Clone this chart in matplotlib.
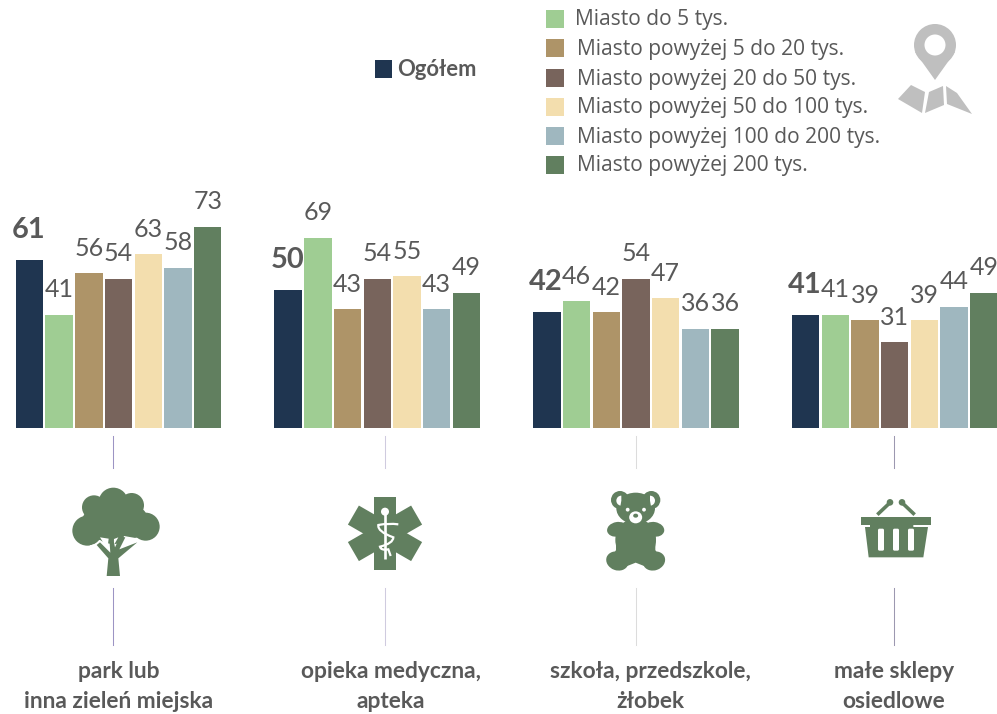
import numpy as np
import matplotlib
matplotlib.use("Agg")
import matplotlib.pyplot as plt
from matplotlib.patches import Circle, Ellipse, Polygon, Rectangle, FancyBboxPatch, Wedge, PathPatch
from matplotlib.path import Path

categories = [["park lub", "inna zieleń miejska"],
              ["opieka medyczna,", "apteka"],
              ["szkoła, przedszkole,", "żłobek"],
              ["małe sklepy", "osiedlowe"]]
series_names = ["Ogółem", "Miasto do 5 tys.", "Miasto powyżej 5 do 20 tys.",
                "Miasto powyżej 20 do 50 tys.", "Miasto powyżej 50 do 100 tys.",
                "Miasto powyżej 100 do 200 tys.", "Miasto powyżej 200 tys."]
ogolem = [61, 50, 42, 41]
do5 = [41, 69, 46, 41]
od5do20 = [56, 43, 42, 39]
od20do50 = [54, 54, 54, 31]
od50do100 = [63, 55, 47, 39]
od100do200 = [58, 43, 36, 44]
pow200 = [73, 49, 36, 49]
series = [ogolem, do5, od5do20, od20do50, od50do100, od100do200, pow200]
colors = ["#1F3550", "#9FCD93", "#AE9468", "#78645C", "#F3DEAE", "#9FB7BF", "#617F5F"]

W, H = 997, 714
TXT = "#595959"
GR = "#617F5F"
FONT = "Lato"
LEG = "Open Sans"
px = 72 / 100
fig = plt.figure(figsize=(W / 100, H / 100), dpi=100)

# ---- bars
step, group = 29.7, 258.7
base_y, per_unit = 428, 2.76
top_units = 80
ax = fig.add_axes([0, (H - base_y) / H, 1, top_units * per_unit / H])
ax.set_xlim(-29.5 / step, (W - 29.5) / step)
ax.set_ylim(0, top_units)
ax.axis("off")
for j, (vals, c) in enumerate(zip(series, colors)):
    xs = np.arange(4) * group / step + j
    ax.bar(xs, vals, width=27.5 / step, color=c, linewidth=0, clip_on=False)
    for x, v in zip(xs, vals):
        bold = j == 0
        ax.annotate(str(v), (x, v), xytext=(-1 * px if bold else 0, (30 if bold else 25) * px),
                    textcoords="offset points", ha="center", va="center", color=TXT,
                    family=FONT, fontsize=(29 if bold else 25) * px,
                    fontweight="bold" if bold else "normal", annotation_clip=False)

# ---- overlay in pixel coordinates for decoration
ov = fig.add_axes([0, 0, 1, 1], zorder=3)
ov.set_xlim(0, W)
ov.set_ylim(H, 0)
ov.axis("off")
ov.patch.set_alpha(0)

# legend
ov.add_patch(Rectangle((375, 60), 17, 18, color=colors[0], lw=0))
ov.text(397, 70, series_names[0], color=TXT, family=FONT, fontweight="bold",
        fontsize=22 * px, va="center", ha="left")
leg_y = [19, 48, 78, 107, 136, 165]
for k, (yy, name, c) in enumerate(zip(leg_y, series_names[1:], colors[1:])):
    ov.add_patch(Rectangle((546, yy - 9), 18, 18, color=c, lw=0))
    ov.text(575 if k == 0 else 577, yy + 1, name, color=TXT, family=LEG, fontsize=21 * px,
            va="center", ha="left")

# vertical separators and category labels
line_x = [112.5, 384.5, 635.5, 893.5]
line_c = ["#9C94C4", "#CFCBDF", "#DCDCDC", "#9C98B0"]
label_x = [119, 391, 650, 894]
for lx, lc, tx, lab in zip(line_x, line_c, label_x, categories):
    ov.plot([lx, lx], [436, 468], color=lc, lw=0.75)
    ov.plot([lx, lx], [588, 645], color=lc, lw=0.75)
    ov.text(tx, 672, lab[0], color=TXT, family=FONT, fontweight="bold", fontsize=22.8 * px,
            ha="center", va="center")
    ov.text(tx, 702, lab[1], color=TXT, family=FONT, fontweight="bold", fontsize=22.8 * px,
            ha="center", va="center")


# ---- icons (zoomed-crop coordinates -> pixels)
def tr(ox, oy):
    return lambda X, Y: (ox + X / 3, oy + Y / 3)


# tree
t = tr(50, 430)
for X, Y, R in [(112, 302, 45), (132, 232, 36), (190, 217, 44), (245, 226, 37),
                (287, 290, 42), (190, 270, 72), (245, 275, 50), (145, 280, 50)]:
    ov.add_patch(Circle(t(X, Y), R / 3, color=GR, lw=0))
for gap in [[(150, 322), (172, 358), (176, 326)], [(192, 327), (190, 348), (205, 322)],
            [(222, 318), (212, 352), (262, 325)], [(120, 346), (150, 338), (176, 380), (170, 400), (120, 400)],
            [(262, 336), (290, 340), (290, 400), (210, 400), (206, 386)]]:
    ov.add_patch(Polygon([t(*p) for p in gap], color="white", lw=0))
ov.add_patch(Polygon([t(*p) for p in [(170, 438), (210, 438), (205, 385), (262, 337), (208, 358),
                                       (226, 322), (210, 320), (195, 352), (190, 328), (178, 328),
                                       (181, 368), (150, 337), (140, 345), (175, 385)]],
                     color=GR, lw=0))

# star of life
cx, cy = t(1005, 310)
for ang in [0, 60, 120]:
    a = np.radians(ang)
    u = np.array([np.sin(a), -np.cos(a)])
    v = np.array([np.cos(a), np.sin(a)])
    pts = [np.array([cx, cy]) + s * 36.5 * u + q * 11 * v for s, q in [(1, 1), (1, -1), (-1, -1), (-1, 1)]]
    ov.add_patch(Polygon(pts, color=GR, lw=0))
ov.plot(*zip(t(1005, 245), t(1005, 388)), color="white", lw=1.9, solid_capstyle="butt")
ov.add_patch(Circle(t(1005, 245), 4, color="white", lw=0))
snake = [(1045, 283), (1015, 279), (985, 285), (982, 305), (1030, 322), (1030, 340),
         (990, 350), (992, 362), (1015, 358), (1022, 378)]
sp = Path([t(*p) for p in snake], [Path.MOVETO] + [Path.CURVE3] * 8 + [Path.LINETO])
ov.add_patch(PathPatch(sp, fill=False, edgecolor="white", lw=1.6))

# bear
b = tr(580, 430)
for X, Y, R in [(120, 210, 27), (214, 210, 27)]:
    ov.add_patch(Circle(b(X, Y), R / 3, color=GR, lw=0))
for X, Y, w, h, ang in [(167, 235, 116, 94, 0), (167, 330, 122, 130, 0), (112, 298, 62, 44, 10),
                        (222, 298, 62, 44, -10), (112, 393, 68, 56, -20), (222, 393, 68, 56, 20)]:
    ov.add_patch(Ellipse(b(X, Y), w / 3, h / 3, angle=-ang, color=GR, lw=0))
ov.add_patch(Polygon([b(*p) for p in [(108, 290), (226, 290), (226, 360), (240, 385), (210, 415),
                                      (167, 398), (124, 415), (94, 385), (108, 360)]], color=GR, lw=0))
ov.add_patch(Wedge(b(124, 212), 5, 100, 270, color="white", lw=0))
ov.add_patch(Wedge(b(210, 212), 5, 270, 80, color="white", lw=0))
for X in [143, 192]:
    ov.add_patch(Circle(b(X, 239), 1.9, color="white", lw=0))
ov.add_patch(Ellipse(b(167, 262), 13, 12, color="white", lw=0))
ov.add_patch(Ellipse(b(167, 257), 5, 4, color=GR, lw=0))

# basket
ov.add_patch(Polygon([b(*p) for p in [(843, 262), (1054, 262), (1054, 285), (843, 285)]], color=GR, lw=0))
ov.add_patch(Polygon([b(*p) for p in [(870, 285), (1000, 285), (1000, 291), (1044, 291), (1030, 382),
                                      (866, 382), (855, 291), (870, 291)]], color=GR, lw=0))
for X in [903, 948, 993]:
    x0, y0 = b(X - 9, 296)
    ov.add_patch(FancyBboxPatch((x0 + 1.5, y0 + 1.5), 3, 19, boxstyle="round,pad=1.5", color="white", lw=0))
for p1, p2 in [((892, 254), (930, 218)), ((1004, 254), (966, 218))]:
    ov.plot(*zip(b(*p1), b(*p2)), color=GR, lw=2.6, solid_capstyle="butt")
for X in [930, 966]:
    ov.add_patch(Circle(b(X, 217), 3.3, color=GR, lw=0))

# map pin
PIN = "#BFBFBF"
pc = (935, 45)
ov.add_patch(Circle(pc, 21, color=PIN, lw=0))
ov.add_patch(Polygon([(915, 52), (955, 52), (935, 80)], color=PIN, lw=0))
ov.add_patch(Circle(pc, 10.5, color="white", lw=0))
for poly in [[(898, 99), (911, 85), (925, 92), (922, 113)],
             [(925, 113), (929, 92), (943, 86), (944, 105)],
             [(946, 86), (957, 93), (972, 114), (947, 104)]]:
    ov.add_patch(Polygon(poly, color=PIN, lw=0))

fig.savefig("out.png", dpi=100, facecolor="white")
